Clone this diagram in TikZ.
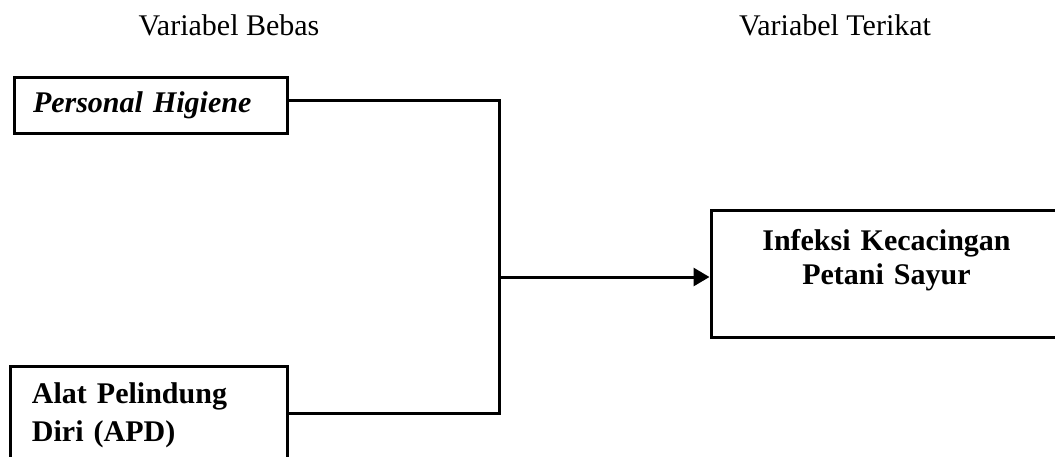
\documentclass[tikz,border=0pt]{standalone}
\usepackage{fontspec}
\setmainfont{Liberation Serif}
\usepackage{tikz}
\usetikzlibrary{arrows.meta, positioning}
\tikzset{
  block/.style={rectangle, draw=black, line width=1.5pt, align=left,
    font=\fontsize{15}{19}\selectfont\bfseries},
  outblock/.style={rectangle, draw=black, line width=1.5pt, align=center,
    text width=160pt, minimum width=175.5pt, minimum height=63.5pt,
    font=\fontsize{15}{17}\selectfont\bfseries},
  title/.style={anchor=base, font=\fontsize{15}{18}\selectfont},
  arrow/.style={-{Triangle[length=8pt, width=9pt]}, line width=1.5pt},
  line/.style={line width=1.5pt}
}

\begin{document}
\begin{tikzpicture}[x=0.5pt, y=-0.5pt]
  \useasboundingbox (0,0) rectangle (1055,456);
  % headings
  \node[title] (bebas) at (229,35) {Variabel Bebas};
  \node[title] (terikat) at (835,35) {Variabel Terikat};
  % independent variables
  \node[block, minimum width=136.5pt, minimum height=28pt, inner xsep=9.5pt,
    text width=117.5pt] (higiene) at (150.5,105) {\itshape Personal Higiene};
  \node[block, minimum width=138.5pt, minimum height=49pt, inner xsep=11pt,
    text width=116.5pt] (apd) at (148.5,415) {Alat Pelindung\\Diri (APD)};
  % dependent variable
  \node[outblock] (infeksi) at (886.5,273.5) {Infeksi Kecacingan\\Petani Sayur\\~};
  % joining lines
  \coordinate (bus) at (499,277);
  \draw[line] ([yshift=2.5pt]higiene.east) -| (bus);
  \draw[line] ([yshift=1pt]apd.east) -| (bus);
  \draw[arrow] (bus) -- (bus -| infeksi.west);
\end{tikzpicture}
\end{document}
